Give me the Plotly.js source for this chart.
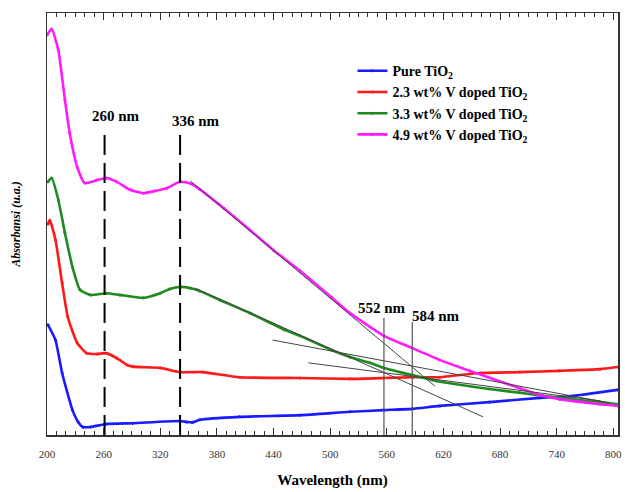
<!DOCTYPE html>
<html>
<head>
<meta charset="utf-8">
<script src="https://cdn.plot.ly/plotly-3.0.1.min.js"></script>
<style>html,body{margin:0;padding:0;background:#fff;}#chart{width:625px;height:492px;}</style>
</head>
<body>
<div id="chart"></div>
<script>
// Wavelength (nm) and absorbance (a.u.)
const pureX = [201,209,216,227,233,238,246,263,291,341,348,354,362,404,468,521,557,587,616,669,722,754,805];
const pureY = [0.261,0.225,0.147,0.059,0.031,0.019,0.019,0.026,0.028,0.033,0.031,0.030,0.036,0.043,0.047,0.055,0.059,0.062,0.069,0.078,0.088,0.092,0.107];

const v23X = [201,203,209,216,222,232,242,253,263,274,285,291,320,341,365,404,468,521,557,587,616,659,701,743,786,805];
const v23Y = [0.500,0.509,0.462,0.360,0.280,0.218,0.194,0.192,0.194,0.182,0.166,0.162,0.159,0.149,0.149,0.137,0.135,0.133,0.135,0.137,0.137,0.147,0.149,0.152,0.156,0.161];

const v33X = [201,205,212,219,227,235,246,263,277,302,320,330,341,352,362,383,415,452,468,502,521,542,557,587,613,669,701,743,786,805];
const v33Y = [0.600,0.609,0.557,0.479,0.398,0.344,0.332,0.336,0.332,0.325,0.336,0.346,0.351,0.348,0.341,0.320,0.289,0.249,0.235,0.201,0.185,0.171,0.159,0.142,0.128,0.109,0.100,0.088,0.078,0.073];

const v49X = [200,205,212,219,224,232,240,253,263,274,288,302,314,327,341,352,362,388,415,440,468,502,521,557,587,616,648,701,722,743,786,805];
const v49Y = [0.948,0.962,0.912,0.794,0.716,0.635,0.597,0.604,0.609,0.600,0.581,0.573,0.578,0.585,0.600,0.596,0.582,0.536,0.486,0.438,0.389,0.325,0.289,0.235,0.206,0.178,0.152,0.111,0.095,0.085,0.073,0.069];

const seriesNames = ['Pure TiO<sub>2</sub>','2.3 wt% V doped TiO<sub>2</sub>','3.3 wt% V doped TiO<sub>2</sub>','4.9 wt% V doped TiO<sub>2</sub>'];
const seriesColors = ['#1a1aff','#ff1a1a','#1f8a1f','#ff1aff'];

// tangent lines (band-edge extrapolation): [x0,x1], [y0,y1]
const tanMagSteepX = [352,611], tanMagSteepY = [0.602,0.116];
const tanGrnSteepX = [357,662], tanGrnSteepY = [0.348,0.043];
const tanMagBaseX = [439,796], tanMagBaseY = [0.225,0.076];
const tanGrnBaseX = [477,786], tanGrnBaseY = [0.171,0.081];

// marker lines
const peakLineX = [261,341], peakLineTop = 0.716;
const peakLabels = ['260 nm','336 nm'], peakLabelX = [273,358], peakLabelY = [0.756,0.745];
const edgeLineX = [557,587], edgeLineTop = [0.277,0.268];
const edgeLabels = ['552 nm','584 nm'], edgeLabelX = [555,612], edgeLabelY = [0.302,0.283];

const xTicks = [200,260,320,380,440,500,560,620,680,740,800];

const serif = 'Liberation Serif, Times New Roman, serif';
const traces = [];
const sx = [pureX,v23X,v33X,v49X], sy = [pureY,v23Y,v33Y,v49Y];
for (let i=0;i<4;i++){
  traces.push({x:sx[i], y:sy[i], type:'scatter', mode:'lines+markers', name:seriesNames[i],
    line:{color:seriesColors[i], width:2.6, shape:'spline', smoothing:0.5},
    marker:{color:seriesColors[i], size:3}});
}
const tl = [[tanMagSteepX,tanMagSteepY],[tanGrnSteepX,tanGrnSteepY],[tanMagBaseX,tanMagBaseY],[tanGrnBaseX,tanGrnBaseY]];
tl.forEach(t=>traces.push({x:t[0], y:t[1], type:'scatter', mode:'lines', showlegend:false, hoverinfo:'skip',
  line:{color:'#444', width:1}}));
peakLineX.forEach(x=>traces.push({x:[x,x], y:[0,peakLineTop], type:'scatter', mode:'lines', showlegend:false,
  line:{color:'#000', width:2, dash:'20px,8px'}}));
edgeLineX.forEach((x,i)=>traces.push({x:[x,x], y:[0,edgeLineTop[i]], type:'scatter', mode:'lines', showlegend:false,
  line:{color:'#555', width:1.2}}));

const annotations = [];
peakLabels.forEach((t,i)=>annotations.push({x:peakLabelX[i], y:peakLabelY[i], text:'<b>'+t+'</b>', showarrow:false,
  font:{family:serif, size:15, color:'#000'}}));
edgeLabels.forEach((t,i)=>annotations.push({x:edgeLabelX[i], y:edgeLabelY[i], text:'<b>'+t+'</b>', showarrow:false,
  font:{family:serif, size:15, color:'#000'}}));

const layout = {
  width:625, height:492,
  margin:{l:47, r:7, t:13, b:57},
  paper_bgcolor:'#fff', plot_bgcolor:'#fff',
  showlegend:true,
  legend:{x:0.535, y:0.9, xanchor:'left', yanchor:'top', bgcolor:'rgba(0,0,0,0)',
    font:{family:serif, size:14, color:'#000', weight:'bold'}, tracegroupgap:0, itemwidth:30},
  xaxis:{range:[200,805], tickvals:xTicks, ticks:'inside', ticklen:7, tickcolor:'#333', tickwidth:1,
    minor:{dtick:10, ticks:'inside', ticklen:4, tickcolor:'#333'},
    showline:true, linecolor:'#333', linewidth:1.5, mirror:'allticks', showgrid:false, zeroline:false,
    tickfont:{family:serif, size:11, color:'#333'}, ticklabelstandoff:8,
    title:{text:'<b>Wavelength (nm)</b>', font:{family:serif, size:15, color:'#000'}, standoff:16}},
  yaxis:{range:[0,1], showticklabels:false, ticks:'', showline:true, linecolor:'#333', linewidth:1.5, mirror:true,
    showgrid:false, zeroline:false,
    title:{text:'<b><i>Absorbansi (u.a.)</i></b>', font:{family:serif, size:12, color:'#000'}, standoff:22}},
  annotations:annotations
};
Plotly.newPlot('chart', traces, layout, {displayModeBar:false, staticPlot:true});
</script>
</body>
</html>
